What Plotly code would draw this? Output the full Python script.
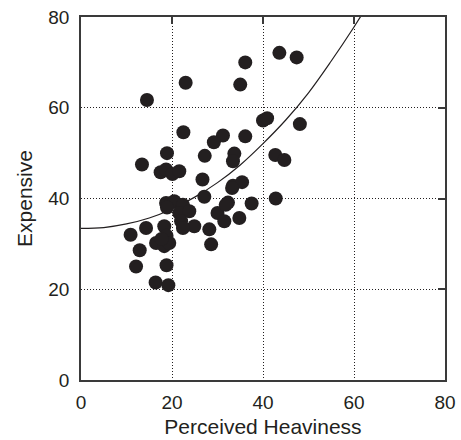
import plotly.graph_objects as go

# Scatter data
heaviness = [43.6, 47.4, 36.1, 23.0, 35.0, 14.5,
             40.0, 40.9, 48.1, 22.5, 31.2, 29.2, 36.1,
             18.9, 27.2, 33.7, 33.4, 42.7, 44.7,
             13.4, 17.5, 18.7, 20.1, 21.6, 26.7,
             33.4, 35.4, 27.1, 42.8, 33.2,
             18.7, 20.5, 22.4, 18.9, 21.6, 23.8, 22.0,
             32.3, 37.5, 30.0, 31.8, 31.5, 34.8,
             24.9, 22.4, 28.2, 14.3, 18.3, 10.9,
             18.8, 16.5, 18.3, 19.4, 17.7, 12.9, 28.6,
             12.1, 18.8, 16.4, 19.2]
expensive = [72.1, 71.1, 70.0, 65.5, 65.1, 61.7,
             57.2, 57.7, 56.4, 54.6, 53.9, 52.4, 53.7,
             50.0, 49.4, 49.9, 48.2, 49.6, 48.5,
             47.5, 45.8, 46.4, 45.4, 46.0, 44.2,
             42.8, 43.6, 40.4, 40.0, 42.3,
             39.0, 39.4, 38.6, 38.0, 36.8, 37.2, 35.0,
             39.1, 38.9, 36.8, 38.6, 35.0, 35.7,
             33.9, 33.5, 33.2, 33.5, 33.9, 32.0,
             31.8, 30.2, 29.5, 30.2, 31.1, 28.6, 29.9,
             25.0, 25.3, 21.5, 20.9]

# Fitted curve
curve_x = [0, 5, 10, 15, 20, 25, 30, 35, 40, 45, 50, 55, 60, 62]
curve_y = [33.4, 33.6, 34.4, 35.7, 37.7, 40.3, 43.5, 47.4, 52.1, 57.3, 63.3, 70.3, 77.8, 81.0]

tick_vals = [0, 20, 40, 60, 80]
tick_text = ["0", "20", "40", "60", "80"]

ink = "#231f20"
font_family = "Liberation Sans, Arial, Helvetica, sans-serif"

fig = go.Figure()
fig.add_trace(go.Scatter(x=curve_x, y=curve_y, mode="lines",
                         line=dict(color=ink, width=1.2, shape="spline"), hoverinfo="skip",
                         showlegend=False))
fig.add_trace(go.Scatter(x=heaviness, y=expensive, mode="markers",
                         marker=dict(color=ink, size=14, line=dict(width=0)),
                         showlegend=False))

common = dict(range=[0, 80], tickvals=tick_vals, ticktext=tick_text, automargin=False,
              showgrid=True, gridcolor=ink, griddash="1px,2px", gridwidth=1,
              zeroline=False, showline=True, linecolor="#3a3a3a", linewidth=1.5,
              mirror=True, ticks="", tickfont=dict(size=19, color=ink, family=font_family))

fig.update_layout(
    width=461, height=440,
    margin=dict(l=81, r=16, t=17, b=60),
    paper_bgcolor="white", plot_bgcolor="white",
    font=dict(family=font_family, color=ink),
    xaxis=dict(**common, title=dict(text="Perceived Heaviness", font=dict(size=21), standoff=8),
               ticklabelstandoff=4),
    yaxis=dict(**common, title=dict(text="Expensive", font=dict(size=21), standoff=10),
               ticklabelstandoff=6),
    xaxis2=dict(overlaying="x", side="top", range=[0, 80], tickvals=[20, 40, 60],
                ticks="inside", ticklen=7, tickwidth=1.5, tickcolor="#3a3a3a", automargin=False,
                showticklabels=False, showgrid=False, zeroline=False, showline=False),
    yaxis2=dict(overlaying="y", side="right", range=[0, 80], tickvals=[20, 40, 60],
                ticks="inside", ticklen=7, tickwidth=1.5, tickcolor="#3a3a3a", automargin=False,
                showticklabels=False, showgrid=False, zeroline=False, showline=False),
)
# invisible trace to activate the top/right tick axes
fig.add_trace(go.Scatter(x=[None], y=[None], xaxis="x2", yaxis="y2",
                         showlegend=False, hoverinfo="skip"))

fig.write_html("out.html")
